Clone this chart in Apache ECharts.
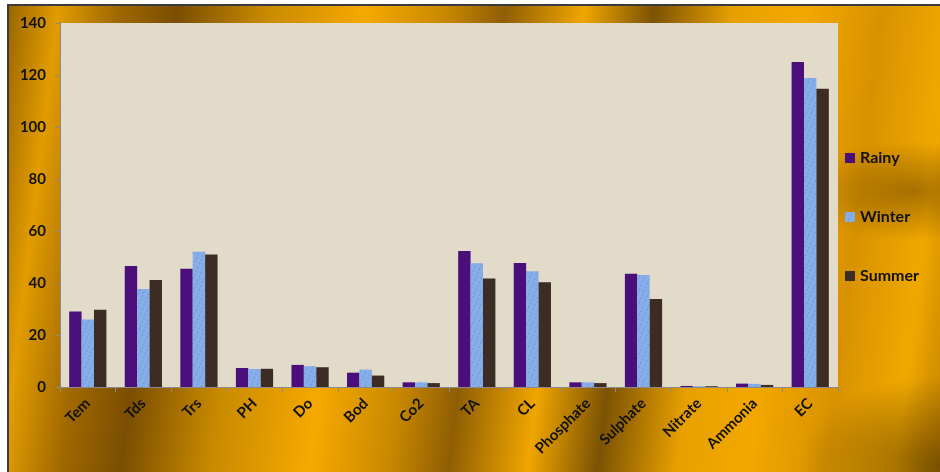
<!DOCTYPE html>
<html>
<head>
<meta charset="utf-8">
<script src="https://cdn.jsdelivr.net/npm/echarts@6/dist/echarts.min.js"></script>
<style>
  html, body { margin: 0; padding: 0; background: #ffffff; width: 940px; height: 472px; overflow: hidden; }
  #frame {
    position: absolute; left: 7px; top: 4px; width: 935px; height: 470px;
    border-left: 2px solid #3a3a3a; border-top: 2px solid #3a3a3a;
    background:
      radial-gradient(ellipse 120px 50px at 905px 185px, rgba(100,60,0,0.5), rgba(100,60,0,0) 100%),
      radial-gradient(ellipse 140px 90px at 930px 460px, rgba(70,45,0,0.6), rgba(70,45,0,0) 100%),
      linear-gradient(97deg, #9a6600 0%, #e29c00 5%, #a06800 11%, #7a4e02 17%, #c98a00 26%, #f5a900 36%, #c98800 44%, #8f5e04 50%, #f0a600 58%, #7c5204 65%, #e7a000 73%, #f2a800 80%, #d89200 88%, #f0a800 95%, #c08000 100%);
  }
  #chart { position: absolute; left: 0; top: 0; width: 940px; height: 472px; }
</style>
</head>
<body>
<div id="frame"></div>
<div id="chart"></div>
<script>
const categories = ['Tem','Tds','Trs','PH','Do','Bod','Co2','TA','CL','Phosphate','Sulphate','Nitrate','Ammonia','EC'];
const rainy  = [29, 46.5, 45.5, 7.3, 8.5, 5.5, 1.8, 52.3, 47.7, 1.8, 43.6, 0.4, 1.3, 125];
const winter = [26, 37.7, 52,   6.9, 8.0, 6.7, 1.8, 47.6, 44.5, 1.8, 43.1, 0.3, 1.2, 118.8];
const summer = [29.7, 41.2, 51, 7.0, 7.6, 4.4, 1.5, 41.7, 40.3, 1.5, 33.8, 0.3, 0.8, 114.7];
const yTicks = [0, 20, 40, 60, 80, 100, 120, 140];

const chart = echarts.init(document.getElementById('chart'), null, { renderer: 'canvas' });
const font = 'Lato, "Open Sans", sans-serif';
chart.setOption({
  backgroundColor: 'transparent',
  animation: false,
  grid: { left: 60, right: 102, top: 23, bottom: 85, show: true, backgroundColor: '#e3dbca', borderWidth: 0 },
  legend: {
    orient: 'vertical', left: 840, top: 145, itemWidth: 10, itemHeight: 10, itemGap: 43,
    textStyle: { fontFamily: font, fontWeight: 'bold', fontSize: 16, color: '#111' },
    icon: 'rect'
  },
  xAxis: {
    type: 'category', data: categories,
    axisLine: { lineStyle: { color: '#8a8a8a', width: 1 } },
    axisTick: { show: true, length: 5, lineStyle: { color: '#8a8a8a' } },
    axisLabel: { rotate: 45, margin: 14, fontFamily: font, fontWeight: 'bold', fontSize: 15, color: '#111', interval: 0 }
  },
  yAxis: {
    type: 'value', min: yTicks[0], max: yTicks[yTicks.length - 1], interval: 20,
    axisLine: { show: true, lineStyle: { color: '#8a8a8a' } },
    axisTick: { show: true, length: 4, lineStyle: { color: '#8a8a8a' } },
    splitLine: { show: false },
    axisLabel: { margin: 14, fontFamily: font, fontWeight: 'bold', fontSize: 15, color: '#111' }
  },
  series: [
    { name: 'Rainy', type: 'bar', data: rainy, barGap: '0%', barCategoryGap: '33%',
      itemStyle: { color: '#4a0f7a' } },
    { name: 'Winter', type: 'bar', data: winter,
      itemStyle: { color: '#86aee8',
        decal: { symbol: 'circle', symbolSize: 0.6, color: 'rgba(40,80,170,0.55)', dashArrayX: [3, 2], dashArrayY: [2, 2], rotation: 0.4 } } },
    { name: 'Summer', type: 'bar', data: summer,
      itemStyle: { color: '#3d2c24' } }
  ]
});
</script>
</body>
</html>
